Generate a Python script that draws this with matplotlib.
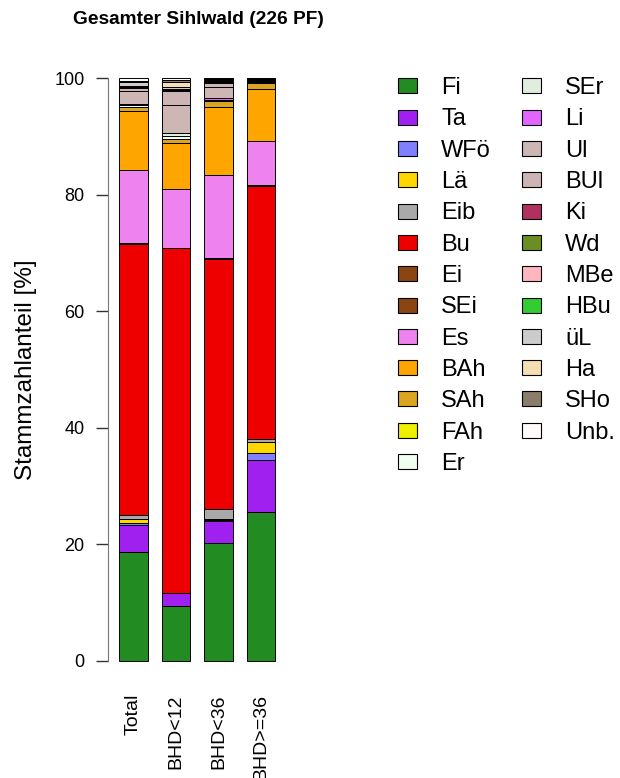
import matplotlib
matplotlib.use("Agg")
import matplotlib.pyplot as plt
from matplotlib.patches import Rectangle

plt.rcParams['font.family'] = ['Liberation Sans', 'DejaVu Sans']

# categories (bars)
groups = ["Total", "BHD<12", "BHD<36", "BHD>=36"]

# species in stacking order (bottom -> top), also legend order
species = ["Fi", "Ta", "WFö", "Lä", "Eib", "Bu", "Ei", "SEi", "Es", "BAh", "SAh", "FAh", "Er",
           "SEr", "Li", "Ul", "BUl", "Ki", "Wd", "MBe", "HBu", "üL", "Ha", "SHo", "Unb."]
colors = ["#228B22", "#A020F0", "#8080FF", "#FFD700", "#A9A9A9", "#EE0000", "#8B4513", "#8B4513",
          "#EE82EE", "#FFA500", "#DAA520", "#EEEE00", "#F0FFF0", "#E0EEE0", "#E066FF", "#CDB7B5",
          "#CDB5B5", "#B03060", "#6B8E23", "#FFB6C1", "#32CD32", "#CCCCCC", "#F5DEB3", "#8B7D6B",
          "#FFFAFA"]

# share of stems [%] per species, one list per bar
total    = [18.7, 4.7, 0.2, 0.8, 0.6, 46.5, 0.1, 0.1, 12.5, 10.1, 0.7, 0.1, 0.2,
            0.2, 0.1, 2.2, 0.5, 0.1, 0.1, 0.05, 0.05, 0.7, 0.1, 0.15, 0.45]
bhd_lt12 = [9.4, 2.2, 0.0, 0.0, 0.0, 59.2, 0.0, 0.0, 10.2, 7.9, 0.6, 0.1, 0.5,
            0.4, 0.0, 4.8, 2.5, 0.1, 0.1, 0.1, 0.1, 0.3, 0.9, 0.3, 0.3]
bhd_lt36 = [20.2, 3.8, 0.1, 0.3, 1.6, 43.0, 0.1, 0.1, 14.1, 11.8, 0.9, 0.1, 0.1,
            0.1, 0.2, 2.0, 0.7, 0.2, 0.1, 0.05, 0.05, 0.2, 0.1, 0.1, 0.0]
bhd_ge36 = [25.6, 8.9, 1.2, 1.9, 0.4, 43.5, 0.1, 0.0, 7.6, 9.0, 1.0, 0.0, 0.1,
            0.0, 0.1, 0.1, 0.1, 0.1, 0.1, 0.0, 0.0, 0.1, 0.0, 0.1, 0.0]

data = [total, bhd_lt12, bhd_lt36, bhd_ge36]

W, H = 620, 778
fig = plt.figure(figsize=(W / 100, H / 100), dpi=100)

# axes in pixel coords: left 108, right 286, y 0 at 661, y 100 at 78
ax = fig.add_axes([108 / W, 1 - 684.3 / H, (286.5 - 108) / W, (684.3 - 54.7) / H])

x = list(range(len(groups)))
bottoms = [0.0] * len(groups)
for i, sp in enumerate(species):
    vals = [d[i] for d in data]
    ax.bar(x, vals, bottom=bottoms, width=0.68, color=colors[i],
           edgecolor="black", linewidth=0.7)
    bottoms = [b + v for b, v in zip(bottoms, vals)]

ax.set_xlim(-0.6, 3.6)
ax.set_ylim(-4, 104)
ax.set_yticks([0, 20, 40, 60, 80, 100])
ax.set_xticks(x)
ax.set_xticklabels(groups, rotation=90, fontsize=14, va="top")
ax.tick_params(axis="x", length=0, pad=7)
ax.tick_params(axis="y", labelsize=13, length=9, width=1, color="#333333", pad=8)
for s in ["top", "right", "bottom"]:
    ax.spines[s].set_visible(False)
ax.spines["left"].set_bounds(0, 100)
ax.spines["left"].set_color("#777777")
ax.set_ylabel("Stammzahlanteil [%]", fontsize=17.5)
ax.yaxis.set_label_coords(-0.40, 0.5)

fig.text(198 / W, 1 - 20 / H, "Gesamter Sihlwald (226 PF)", ha="center", va="center",
         fontsize=13.8, fontweight="bold")

# legend, two columns, drawn by hand like R's legend()
fs = 17
cap = 0.716 * fs * 100 / 72
for k, (sp, col) in enumerate(zip(species, colors)):
    c, r = divmod(k, 13)
    yc = 85.7 + r * 31.33
    bx = 398 if c == 0 else 522
    tx = 441 if c == 0 else 565
    fig.add_artist(Rectangle((bx / W, 1 - (yc + 7.5) / H), 19 / W, 15 / H,
                             transform=fig.transFigure, facecolor=col,
                             edgecolor="black", linewidth=0.8))
    fig.text(tx / W, 1 - (yc + cap / 2) / H, sp, ha="left", va="baseline", fontsize=fs)

fig.savefig("out.png", dpi=100)
